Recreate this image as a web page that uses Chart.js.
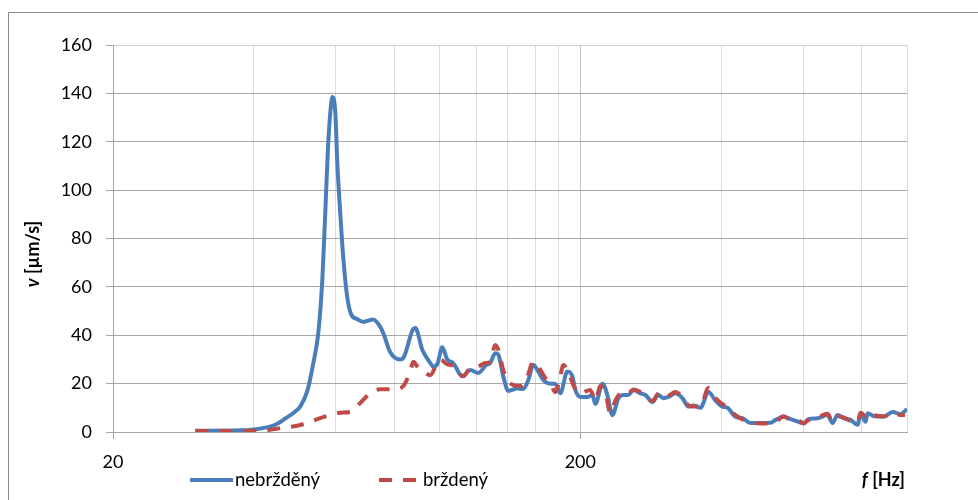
<!DOCTYPE html>
<html>
<head>
<meta charset="utf-8">
<script src="https://cdn.jsdelivr.net/npm/chart.js@4.4.1/dist/chart.umd.min.js"></script>
<style>
  html, body { margin: 0; padding: 0; background: #ffffff; }
  #wrap { width: 978px; height: 500px; position: relative; }
</style>
</head>
<body>
<div id="wrap"><canvas id="c" width="978" height="500"></canvas></div>
<script>
// ---- data ----
const seriesNames = ["nebržděný", "brždený"];

const freqBlue = [30, 37.4, 41.3, 44.5, 46.7, 49.1, 50.3, 52.1, 53.6, 55.0, 56.1, 56.9, 57.7, 58.6, 58.9, 59.8, 60.4, 61.3, 62.2, 63.4, 64.7, 66.6, 68.6, 72.1, 74.6, 75.7, 78.4, 82.3, 83.6, 87.8, 88.7, 91.8, 95.5, 96.9, 98.8, 101.3, 103.8, 106.9, 111.8, 116.3, 121.0, 125.8, 128.3, 131.5, 133.5, 136.8, 140.2, 146.6, 151.0, 154.8, 158.6, 162.6, 166.6, 172.5, 176.8, 181.2, 187.6, 192.3, 195.1, 200, 207, 212.2, 215.4, 223, 228.5, 234.2, 241.2, 247.3, 253.4, 259.8, 268.9, 275.6, 285.3, 293.8, 301.2, 308.6, 319.5, 330.7, 340.6, 349.2, 361.4, 376, 389.2, 403, 413, 429.5, 444.6, 462.4, 485.8, 510.4, 523.2, 544.2, 563.4, 586, 600.6, 615.6, 643.6, 676.2, 693, 710.2, 731.6, 757.4, 783.8, 795.6, 815.4, 823.6, 848.2, 891, 931.4, 968.8, 1000];
const valBlue = [0.5, 0.7, 1.4, 3, 5.5, 8.5, 10.5, 17, 28, 41, 63, 90, 118, 136, 138.5, 132, 111, 90, 72, 56, 48.5, 46.7, 45.5, 46.5, 43.5, 41, 33, 30, 30.6, 42.6, 43, 34, 28.5, 27, 28, 35, 30, 28.5, 23, 25.6, 24.4, 27.7, 28.5, 32.6, 32, 23, 17, 18, 17.8, 21.5, 27.7, 25, 21.5, 20, 20, 16, 25, 23, 17.4, 14.5, 14.5, 15.3, 11.6, 20, 15.3, 7, 14, 15.3, 15.3, 17.4, 16, 15.3, 12.4, 15.3, 14, 14.5, 16, 14, 10.5, 11, 10, 16.5, 13, 10.5, 10, 6.3, 5.7, 3.7, 3.7, 3.8, 5, 6.3, 5.3, 4.2, 3.7, 5.3, 5.7, 7, 3.7, 7, 5.7, 5, 3, 7.8, 4.2, 7.8, 6.6, 6.3, 8.3, 7.4, 9.5];

const freqRed = [30, 41.3, 45.6, 50.3, 55.5, 61.3, 64.3, 67.6, 71.0, 74.6, 80.3, 83.6, 86.5, 87.8, 90.0, 93.1, 95.5, 98.8, 100.3, 103.8, 108.0, 112.3, 116.3, 120.4, 125.2, 128.3, 131.5, 133.5, 136.8, 139.6, 143.7, 148.8, 154.0, 158.6, 162.6, 168.3, 172.5, 176.8, 181.2, 183.9, 188.5, 193.2, 200, 210, 215.4, 220.8, 226.3, 232, 237.7, 246, 253.4, 259.8, 268.9, 275.6, 285.3, 293.8, 301.2, 308.6, 319.5, 330.7, 340.6, 349.2, 361.4, 376, 389.2, 403, 413, 429.5, 444.6, 462.4, 485.8, 510.4, 523.2, 544.2, 563.4, 586, 600.6, 615.6, 643.6, 676.2, 693, 710.2, 731.6, 757.4, 783.8, 795.6, 815.4, 823.6, 848.2, 891, 931.4, 968.8, 990];
const valRed = [0.4, 0.5, 1.6, 2.9, 5.7, 8, 8.3, 12, 16, 17.7, 17.7, 19, 25, 29, 26.5, 24.4, 23.5, 28.5, 29.8, 28, 27, 23, 26.5, 27, 28.5, 29, 36, 34, 25.6, 21.5, 19.4, 19, 23, 29, 27, 22.3, 20, 16.5, 23, 27.7, 25, 19.4, 16, 17.4, 13, 19, 16, 7.8, 13, 16.5, 16, 17.6, 16.5, 15, 12.8, 15.8, 14.5, 15, 16.5, 14.5, 11, 10.5, 10.5, 18.2, 14, 11.5, 10.5, 7, 5.2, 4, 3.5, 3.5, 4, 6.5, 5, 4.8, 3.5, 5, 6, 7.5, 4.5, 6.5, 6, 4.5, 4, 8, 6.5, 7.8, 7, 6.5, 7.8, 7, 7];

const yTickValues = [0, 20, 40, 60, 80, 100, 120, 140, 160];
const xGridValues = [20, 40, 60, 80, 100, 120, 140, 160, 180, 200, 400, 600, 800, 1000];
const xLabelValues = [20, 200];

// ---- styles ----
const BLUE = '#4A7EBB';
const RED = '#BE4B48';
const FONT = 'Lato, "Open Sans", "DejaVu Sans", sans-serif';

const framePlugin = {
  id: 'frame',
  beforeDraw(chart) {
    const ctx = chart.ctx;
    ctx.save();
    ctx.fillStyle = '#ffffff';
    ctx.fillRect(0, 0, chart.width, chart.height);
    ctx.strokeStyle = '#8c8c8c';
    ctx.lineWidth = 1;
    ctx.beginPath();
    ctx.moveTo(8.5, chart.height + 5);
    ctx.lineTo(8.5, 12.5);
    ctx.lineTo(chart.width + 5, 12.5);
    ctx.stroke();
    ctx.restore();
  },
  afterDraw(chart) {
    const ctx = chart.ctx;
    ctx.save();
    ctx.fillStyle = '#000000';
    ctx.textBaseline = 'middle';
    // y-axis title: "v [µm/s]" (v bold italic)
    ctx.save();
    ctx.translate(33, 254);
    ctx.rotate(-Math.PI / 2);
    const fItal = 'italic bold 18px ' + FONT;
    const fBold = 'bold 18px ' + FONT;
    ctx.font = fItal;
    const w1 = ctx.measureText('v').width;
    ctx.font = fBold;
    const w2 = ctx.measureText(' [µm/s]').width;
    let sx = -(w1 + w2) / 2;
    ctx.textAlign = 'left';
    ctx.font = fItal; ctx.fillText('v', sx, 0);
    ctx.font = fBold; ctx.fillText(' [µm/s]', sx + w1, 0);
    ctx.restore();
    // x-axis title: "f [Hz]"
    ctx.textAlign = 'left';
    ctx.font = fItal;
    const wf = ctx.measureText('f').width;
    ctx.font = fBold;
    const wh = ctx.measureText(' [Hz]').width;
    const xr = 905;
    ctx.font = fItal; ctx.fillText('f', xr - wf - wh, 480);
    ctx.font = fBold; ctx.fillText(' [Hz]', xr - wh, 480);
    // legend
    const ly = 480;
    ctx.lineWidth = 4;
    ctx.lineCap = 'butt';
    ctx.strokeStyle = BLUE;
    ctx.setLineDash([]);
    ctx.beginPath(); ctx.moveTo(190, ly); ctx.lineTo(233, ly); ctx.stroke();
    ctx.strokeStyle = RED;
    ctx.setLineDash([13, 11]);
    ctx.beginPath(); ctx.moveTo(379, ly); ctx.lineTo(421, ly); ctx.stroke();
    ctx.setLineDash([]);
    ctx.font = '18.5px ' + FONT;
    ctx.fillStyle = '#000000';
    ctx.fillText(seriesNames[0], 235, ly);
    ctx.fillText(seriesNames[1], 423, ly);
    ctx.restore();
  }
};

new Chart(document.getElementById('c'), {
  type: 'line',
  data: {
    datasets: [
      {
        label: seriesNames[0],
        data: freqBlue.map((f, i) => ({ x: f, y: valBlue[i] })),
        borderColor: BLUE,
        borderWidth: 4,
        pointRadius: 0,
        fill: false,
        cubicInterpolationMode: 'monotone',
        order: 1
      },
      {
        label: seriesNames[1],
        data: freqRed.map((f, i) => ({ x: f, y: valRed[i] })),
        borderColor: RED,
        borderWidth: 4,
        borderDash: [13, 11],
        pointRadius: 0,
        fill: false,
        cubicInterpolationMode: 'monotone',
        order: 0
      }
    ]
  },
  options: {
    responsive: false,
    animation: false,
    devicePixelRatio: 1,
    layout: { padding: { left: 0, right: 71, top: 45, bottom: 0 } },
    plugins: { legend: { display: false }, tooltip: { enabled: false } },
    scales: {
      x: {
        type: 'logarithmic',
        min: 20,
        max: 1000,
        afterBuildTicks(scale) {
          scale.ticks = xGridValues.map(v => ({ value: v, major: xLabelValues.includes(v) }));
        },
        afterFit(scale) { scale.height = 68; },
        ticks: {
          autoSkip: false,
          maxRotation: 0,
          minRotation: 0,
          padding: 12,
          color: '#000000',
          font: { family: FONT, size: 18 },
          callback: (v) => xLabelValues.includes(v) ? String(v) : ''
        },
        grid: {
          color: (c) => (c.tick && xLabelValues.includes(c.tick.value)) ? '#c2c2c2' : '#dcdcdc',
          tickColor: (c) => (c.tick && xLabelValues.includes(c.tick.value)) ? '#a6a6a6' : 'rgba(0,0,0,0)',
          tickLength: 7,
          lineWidth: 1
        },
        border: { color: '#a6a6a6', width: 1 }
      },
      y: {
        min: 0,
        max: 160,
        afterBuildTicks(scale) {
          scale.ticks = yTickValues.map(v => ({ value: v }));
        },
        afterFit(scale) { scale.width = 113; },
        ticks: {
          padding: 14,
          color: '#000000',
          font: { family: FONT, size: 18 }
        },
        grid: {
          color: (c) => (c.tick && c.tick.value === 160) ? '#cfcfcf' : '#a6a6a6',
          tickColor: '#a6a6a6',
          tickLength: 7,
          lineWidth: 1
        },
        border: { color: '#a6a6a6', width: 1 }
      }
    }
  },
  plugins: [framePlugin]
});
</script>
</body>
</html>
